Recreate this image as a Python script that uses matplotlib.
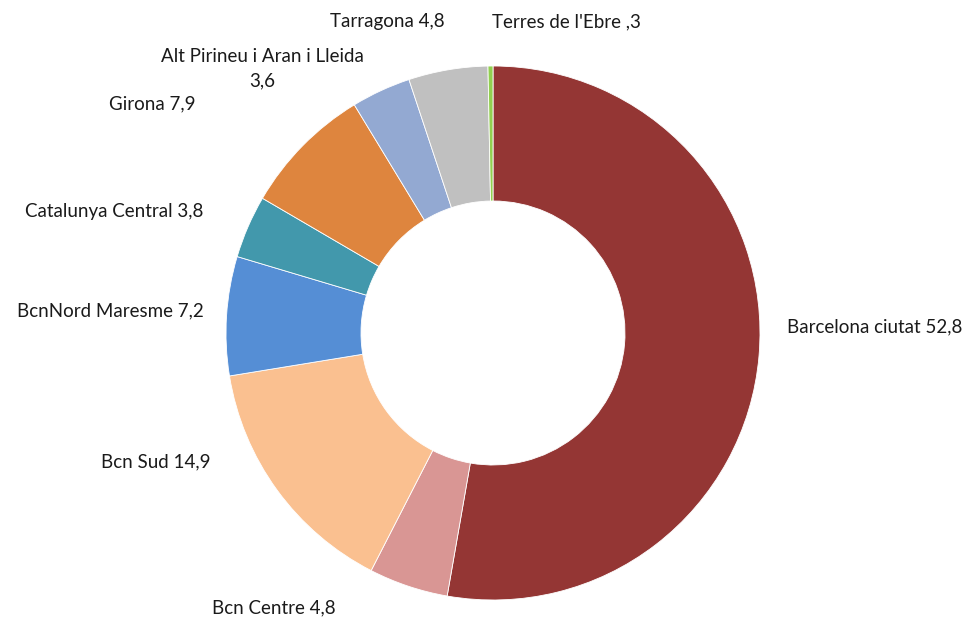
import matplotlib.pyplot as plt

regions = ["Barcelona ciutat", "Bcn Centre", "Bcn Sud", "BcnNord Maresme",
           "Catalunya Central", "Girona", "Alt Pirineu i Aran i Lleida",
           "Tarragona", "Terres de l'Ebre"]
values = [52.8, 4.8, 14.9, 7.2, 3.8, 7.9, 3.6, 4.8, 0.3]
value_labels = ["52,8", "4,8", "14,9", "7,2", "3,8", "7,9", "3,6", "4,8", ",3"]
colors = ["#943634", "#D99694", "#FAC090", "#558ED5", "#4298AC",
          "#DE853E", "#93A9D2", "#C0C0C0", "#92D050"]

# label anchor points in pixel space (x, y from top)
label_pos = [(787, 327, "left"), (274, 608, "center"), (210, 462, "right"),
             (204, 311, "right"), (203, 211, "right"), (195, 104, "right"),
             (262, 69, "center"), (387, 22, "center"), (566, 22, "center")]

W, H = 972, 618
fig = plt.figure(figsize=(W / 100, H / 100), dpi=100)
ax = fig.add_axes([0, 0, 1, 1])

ax.pie(values, colors=colors, startangle=90, counterclock=False,
       center=(493, H - 333), radius=267, frame=True,
       wedgeprops=dict(width=135, edgecolor="white", linewidth=0.6))
ax.set_xlim(0, W)
ax.set_ylim(0, H)
ax.set_aspect("equal")
ax.axis("off")

for name, val, (x, y, ha) in zip(regions, value_labels, label_pos):
    if name.startswith("Alt"):
        txt = f"{name}\n{val}"
    else:
        txt = f"{name} {val}"
    ax.text(x, H - y, txt, ha=ha, va="center", fontsize=13.5,
            family="Lato", color="#1a1a1a", linespacing=1.55, multialignment="center")

plt.savefig("out.png", dpi=100)
